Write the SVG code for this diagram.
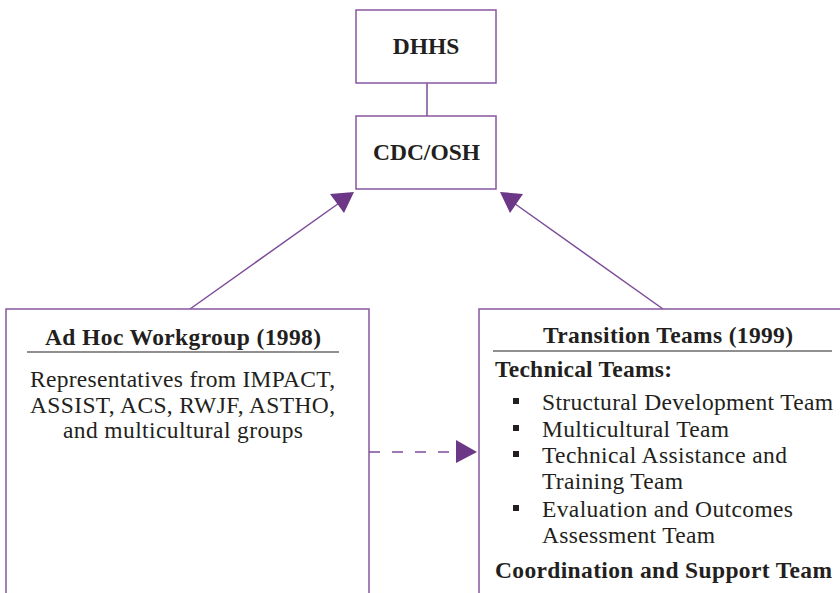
<svg xmlns="http://www.w3.org/2000/svg" width="840" height="593" viewBox="0 0 840 593">
<style>
.box{fill:#fff;stroke:#8657a0;stroke-width:1.5}
.con{stroke:#7d4c99;stroke-width:1.5;fill:none}
.head{fill:#6c3786;stroke:none}
text{font-family:'Liberation Serif','Times New Roman',Times,'Nimbus Roman',serif;fill:#231f20;font-size:23.5px}
.b{font-weight:bold}
.rule{stroke:#231f20;stroke-width:1.2}
.bul{fill:#231f20}
</style>
<rect width="840" height="593" fill="#fff"/>
<g id="connectors">
<line class="con" x1="427" y1="83" x2="427" y2="116"/>
<line class="con" x1="190" y1="309" x2="342" y2="201"/>
<polygon class="head" points="354,192 330,194 344,213"/>
<line class="con" x1="663" y1="309" x2="511" y2="201"/>
<polygon class="head" points="500,192 523,194 510,213"/>
<line class="con" x1="369" y1="452" x2="456" y2="452" stroke-dasharray="11,12"/>
<polygon class="head" points="456,440 477,452 456,463"/>
</g>
<g id="dhhs">
<rect class="box" x="356" y="10" width="140" height="73"/>
<text class="b" x="426" y="54" text-anchor="middle">DHHS</text>
</g>
<g id="cdc">
<rect class="box" x="356" y="116" width="140" height="73"/>
<text class="b" x="426.5" y="160" text-anchor="middle">CDC/OSH</text>
</g>
<g id="adhoc">
<rect class="box" x="6" y="309" width="363" height="300"/>
<text class="b" x="45" y="345" textLength="276" lengthAdjust="spacing">Ad Hoc Workgroup (1998)</text>
<line class="rule" x1="27" y1="352" x2="339" y2="352"/>
<text x="30" y="387" textLength="305" lengthAdjust="spacing">Representatives from IMPACT,</text>
<text x="30" y="413" textLength="305" lengthAdjust="spacing">ASSIST, ACS, RWJF, ASTHO,</text>
<text x="63" y="438" textLength="240" lengthAdjust="spacing">and multicultural groups</text>
</g>
<g id="transition">
<rect class="box" x="479" y="309" width="380" height="300"/>
<text class="b" x="543" y="343" textLength="250" lengthAdjust="spacing">Transition Teams (1999)</text>
<line class="rule" x1="493" y1="351" x2="832" y2="351"/>
<text class="b" x="495" y="377" textLength="177" lengthAdjust="spacing">Technical Teams:</text>
<rect class="bul" x="513" y="398" width="6" height="6"/>
<text x="542" y="410" textLength="291" lengthAdjust="spacing">Structural Development Team</text>
<rect class="bul" x="513" y="425" width="6" height="6"/>
<text x="542" y="437" textLength="187" lengthAdjust="spacing">Multicultural Team</text>
<rect class="bul" x="513" y="451" width="6" height="6"/>
<text x="542" y="463" textLength="245" lengthAdjust="spacing">Technical Assistance and</text>
<text x="542" y="489" textLength="141" lengthAdjust="spacing">Training Team</text>
<rect class="bul" x="513" y="505" width="6" height="6"/>
<text x="542" y="517" textLength="251" lengthAdjust="spacing">Evaluation and Outcomes</text>
<text x="542" y="543" textLength="173" lengthAdjust="spacing">Assessment Team</text>
<text class="b" x="495" y="578" textLength="337" lengthAdjust="spacing">Coordination and Support Team</text>
</g>
</svg>
